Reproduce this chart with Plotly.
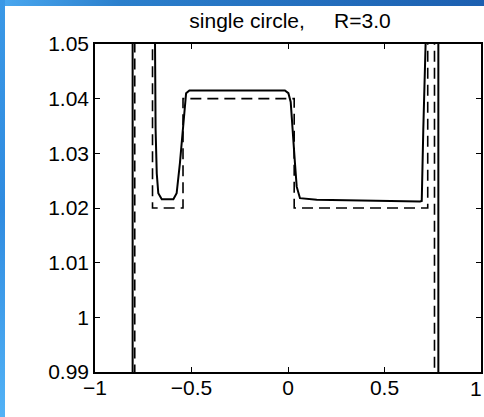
import base64
import plotly.graph_objects as go

# ---- data ----
x_exact = [-1.0, -0.794, -0.794, -0.702, -0.702, -0.544, -0.544, 0.032, 0.032, 0.724, 0.724, 0.759, 0.759, 1.0]
y_exact = [0.95, 0.95, 1.10, 1.10, 1.020, 1.020, 1.040, 1.040, 1.020, 1.020, 1.10, 1.10, 0.95, 0.95]

x_num = [-1.0, -0.805, -0.805, -0.689, -0.686, -0.680, -0.672, -0.654, -0.594, -0.577, -0.560,
         -0.539, -0.528, -0.511, -0.016, 0.002, 0.014, 0.036, 0.045, 0.062, 0.149, 0.684,
         0.693, 0.701, 0.713, 0.779, 0.779, 1.0]
y_num = [0.95, 0.95, 1.10, 1.0501, 1.0343, 1.0263, 1.0227, 1.0216, 1.0216, 1.0227, 1.0282,
         1.0373, 1.0410, 1.0415, 1.0415, 1.0410, 1.0394, 1.0282, 1.0239, 1.0218, 1.0215, 1.0212,
         1.0213, 1.0343, 1.0501, 1.10, 0.95, 0.95]

x_tickvals = [-1, -0.5, 0, 0.5, 1]
x_ticktext = ["\u22121", "\u22120.5", "0", "0.5", "1"]
y_tickvals = [0.99, 1.0, 1.01, 1.02, 1.03, 1.04, 1.05]
y_ticktext = ["0.99", "1", "1.01", "1.02", "1.03", "1.04", "1.05"]

title_text = "single circle,\u00a0\u00a0\u00a0\u00a0\u00a0R=3.0"

# ---- layout geometry (pixels) ----
W, H = 484, 417
L, R, T, B = 95, 3, 44, 45
pw, ph = W - L - R, H - T - B

fig = go.Figure()
fig.add_trace(go.Scatter(x=x_exact, y=y_exact, mode="lines",
                         line=dict(color="black", width=1.6, dash="11px,6px"),
                         showlegend=False, hoverinfo="skip"))
fig.add_trace(go.Scatter(x=x_num, y=y_num, mode="lines",
                         line=dict(color="black", width=2),
                         showlegend=False, hoverinfo="skip"))

# decorative blue slide border (gradient) as an SVG image
svg = f'''<svg xmlns="http://www.w3.org/2000/svg" width="{W}" height="{H}" viewBox="0 0 {W} {H}" preserveAspectRatio="none">
<defs>
<linearGradient id="gt" x1="0" y1="0" x2="1" y2="0">
<stop offset="0" stop-color="#4aa8f0"/><stop offset="0.25" stop-color="#2b7fcc"/>
<stop offset="1" stop-color="#1c5fb0"/></linearGradient>
<linearGradient id="gl" x1="0" y1="0" x2="0" y2="1">
<stop offset="0" stop-color="#3a98e6"/><stop offset="0.5" stop-color="#2f8be0"/>
<stop offset="1" stop-color="#52b2f6"/></linearGradient>
</defs>
<rect x="0" y="0" width="{W}" height="6" fill="url(#gt)"/>
<rect x="0" y="0" width="5" height="{H}" fill="url(#gl)"/>
</svg>'''
src = "data:image/svg+xml;base64," + base64.b64encode(svg.encode()).decode()

fig.add_layout_image(dict(source=src, xref="paper", yref="paper",
                          x=-L / pw, y=1 + T / ph, sizex=W / pw, sizey=H / ph,
                          xanchor="left", yanchor="top", sizing="stretch", layer="above"))

font_family = "Liberation Sans, Arial, Helvetica, sans-serif"
tick_font = dict(family=font_family, size=21, color="black")
axis_common = dict(showline=True, linecolor="black", linewidth=1.5, mirror="ticks",
                   ticks="inside", ticklen=5, tickwidth=1.2, tickcolor="black",
                   showgrid=False, zeroline=False, automargin=False,
                   ticklabeloverflow="allow", tickfont=tick_font)

# last x tick label sits at the very right edge: draw it right-aligned to the edge
x_ticktext_axis = x_ticktext[:-1] + [""]
fig.add_annotation(x=x_tickvals[-1], xref="x", y=0, yref="paper", yanchor="top",
                   xanchor="right", xshift=R, yshift=-3, text=x_ticktext[-1],
                   showarrow=False, font=tick_font)

fig.update_layout(
    width=W, height=H, autosize=False,
    margin=dict(l=L, r=R, t=T, b=B, pad=0, autoexpand=False),
    paper_bgcolor="white", plot_bgcolor="white",
    title=dict(text=title_text, x=290 / W, xanchor="center", y=1 - 21 / H, yanchor="middle",
               font=dict(family=font_family, size=21, color="black")),
    xaxis=dict(range=[-1, 1], tickvals=x_tickvals, ticktext=x_ticktext_axis,
               ticklabelstandoff=-4, **axis_common),
    yaxis=dict(range=[0.99, 1.05], tickvals=y_tickvals, ticktext=y_ticktext,
               ticklabelstandoff=0, **axis_common),
)

fig.write_html("out.html", config={"displayModeBar": False},
               post_script="document.body.style.margin='0';document.body.style.padding='0';"
                           "document.body.style.overflow='hidden';")
